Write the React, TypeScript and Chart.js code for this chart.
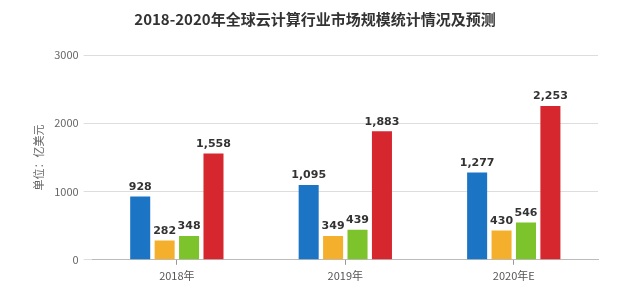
import React, { useEffect, useRef } from "react";
import { Chart, registerables } from "chart.js";

Chart.register(...registerables);

const title = "2018-2020年全球云计算行业市场规模统计情况及预测";
const yAxisTitle = "单位：亿美元";
const categories = ["2018年", "2019年", "2020年E"];
const seriesNames = ["SaaS", "PaaS", "IaaS", "合计"];
const saasValues = [928, 1095, 1277];
const paasValues = [282, 349, 430];
const iaasValues = [348, 439, 546];
const totalValues = [1558, 1883, 2253];
const yTicks = [0, 1000, 2000, 3000];
const seriesColors = ["#1c74c4", "#f4b02c", "#7dc32b", "#d6272f"];

const FONT = "'Noto Sans CJK SC', 'Noto Sans', sans-serif";

const valueLabelPlugin = {
  id: "valueLabels",
  afterDatasetsDraw(chart: any) {
    const ctx = chart.ctx;
    ctx.save();
    ctx.font = `bold 11px 'DejaVu Sans', 'Noto Sans', sans-serif`;
    ctx.fillStyle = "#333333";
    ctx.textAlign = "center";
    ctx.textBaseline = "bottom";
    chart.data.datasets.forEach((ds: any, i: number) => {
      const meta = chart.getDatasetMeta(i);
      meta.data.forEach((bar: any, j: number) => {
        const v = ds.data[j] as number;
        ctx.fillText(v.toLocaleString("en-US"), bar.x, bar.y - 4);
      });
    });
    ctx.restore();
  },
};

export default function App() {
  const ref = useRef<HTMLCanvasElement | null>(null);
  useEffect(() => {
    if (!ref.current) return;
    const values = [saasValues, paasValues, iaasValues, totalValues];
    const chart = new Chart(ref.current, {
      type: "bar",
      data: {
        labels: categories,
        datasets: values.map((d, i) => ({
          label: seriesNames[i],
          data: d,
          backgroundColor: seriesColors[i],
          barPercentage: 0.82,
          categoryPercentage: 0.58,
        })),
      },
      options: {
        animation: false,
        responsive: false,
        maintainAspectRatio: false,
        layout: { padding: { top: 0, right: 22, bottom: 9, left: 32 } },
        plugins: {
          legend: { display: false },
          tooltip: { enabled: false },
          title: {
            display: true,
            text: title,
            color: "#333333",
            font: { family: FONT, size: 15, weight: "bold" },
            padding: { top: 10, bottom: 27 },
          },
        },
        scales: {
          x: {
            grid: {
              display: true,
              drawOnChartArea: false,
              drawTicks: true,
              tickLength: 5,
              color: "#999999",
              offset: false,
            },
            border: { display: true, color: "#bbbbbb", width: 1 },
            ticks: {
              color: "#555555",
              font: { family: FONT, size: 11 },
              padding: 4,
            },
          },
          y: {
            min: 0,
            max: 3000,
            afterBuildTicks: (axis: any) => {
              axis.ticks = yTicks.map((v) => ({ value: v }));
            },
            grid: { color: "#dddddd", tickLength: 9 },
            border: { display: false },
            ticks: {
              color: "#666666",
              font: { family: FONT, size: 11 },
              padding: 5,
              callback: (v: any) => String(v),
            },
            title: {
              display: true,
              text: yAxisTitle,
              color: "#666666",
              font: { family: FONT, size: 11 },
              padding: { top: 0, bottom: 4 },
            },
          },
        },
      },
      plugins: [valueLabelPlugin],
    });
    return () => chart.destroy();
  }, []);
  return (
    <div style={{ position: "fixed", left: 0, top: 0, width: 620, height: 295, background: "#fff" }}>
      <canvas ref={ref} width={620} height={295} style={{ width: 620, height: 295 }} />
    </div>
  );
}
